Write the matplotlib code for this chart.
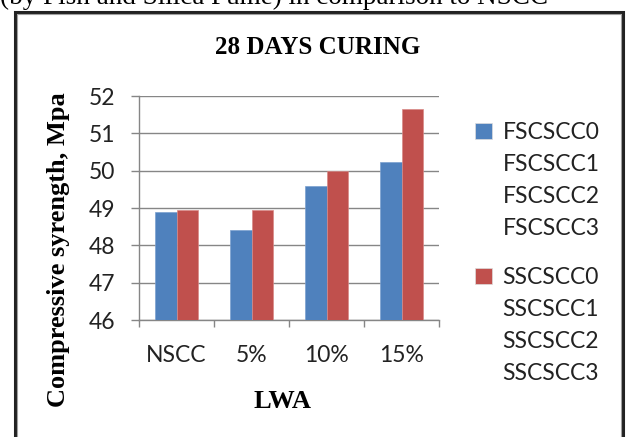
import matplotlib
matplotlib.use("Agg")
import matplotlib.pyplot as plt
import numpy as np
from matplotlib.patches import Rectangle, Patch

# data
categories = ["NSCC", "5%", "10%", "15%"]
fs_values = [48.9, 48.4, 49.6, 50.22]
ss_values = [48.95, 48.95, 50.0, 51.64]
fs_labels = ["FSCSCC0", "FSCSCC1", "FSCSCC2", "FSCSCC3"]
ss_labels = ["SSCSCC0", "SSCSCC1", "SSCSCC2", "SSCSCC3"]
yticks = [46, 47, 48, 49, 50, 51, 52]

W, H = 627, 437
blue = "#4f81bd"
red = "#c0504d"
grid_col = "#868686"
calib = "Lato"
times = "Liberation Serif"

fig = plt.figure(figsize=(W / 100, H / 100), dpi=100)

def fx(px):
    return px / W

def fy(py):
    return 1 - py / H

# outer frame of the screenshot
fig.patches.append(Rectangle((fx(14.5), fy(460)), fx(608.5), 448 / H, transform=fig.transFigure,
                             fill=False, edgecolor="#222222", linewidth=2.2))
fig.patches.append(Rectangle((fx(16.5), fy(460)), fx(604.5), 446 / H, transform=fig.transFigure,
                             fill=False, edgecolor="#a0a0a0", linewidth=0.8))

# caption cut off at the top
fig.text(fx(0), fy(4), "(by Fish and Silica Fume) in comparison to NSCC", family=times,
         fontsize=19.5, ha="left", va="baseline")

ax = fig.add_axes([fx(139), fy(320), fx(439) - fx(139), fy(96) - fy(320)])
x = np.arange(len(categories))
w = 0.29
ax.bar(x - w / 2, fs_values, w, color=blue, edgecolor="#7aa0d0", linewidth=0.5, zorder=3)
ax.bar(x + w / 2, ss_values, w, color=red, edgecolor="#d88a88", linewidth=0.5, zorder=3)
ax.set_xlim(-0.5, len(categories) - 0.5)
ax.set_ylim(46, 52)
ax.set_yticks(yticks)
ax.set_yticklabels([str(v) for v in yticks], family=calib, fontsize=16.5, color="#222222")
ax.set_xticks(x)
ax.set_xticklabels(categories, family=calib, fontsize=16.5, color="#222222")
ax.set_xticks(np.arange(len(categories) + 1) - 0.5, minor=True)
ax.tick_params(axis="x", which="major", length=0, pad=18)
ax.tick_params(axis="x", which="minor", length=5, color=grid_col, width=1, direction="out")
ax.tick_params(axis="y", length=6, color=grid_col, width=1, pad=11)
ax.grid(axis="y", color=grid_col, linewidth=1, zorder=0)
for s in ["top", "right"]:
    ax.spines[s].set_visible(False)
for s in ["left", "bottom"]:
    ax.spines[s].set_color(grid_col)
    ax.spines[s].set_linewidth(1)

fig.text(fx(318), fy(47), "28 DAYS CURING", family=times, weight="bold", fontsize=18,
         ha="center", va="center")
fig.text(fx(282), fy(401), "LWA", family=times, weight="bold", fontsize=19,
         ha="center", va="center")
fig.text(fx(59), fy(250), "Compressive syrength, Mpa", family=times, weight="bold",
         fontsize=19, rotation=90, ha="center", va="center")

def make_legend(labels, color, top_px):
    handles = [Patch(facecolor=color, edgecolor="#dddddd", linewidth=0.5)]
    handles += [Patch(facecolor="none", edgecolor="none") for _ in labels[1:]]
    leg = fig.legend(handles, labels, loc="upper left", bbox_to_anchor=(fx(475), fy(top_px)),
                     frameon=False, prop={"family": calib, "size": 16.5},
                     handlelength=0.75, handleheight=0.75, handletextpad=0.45,
                     labelspacing=0.48, borderpad=0, borderaxespad=0)
    for t in leg.get_texts():
        t.set_color("#222222")
    return leg

make_legend(fs_labels, blue, 122)
make_legend(ss_labels, red, 267)

fig.savefig("out.png", dpi=100)
